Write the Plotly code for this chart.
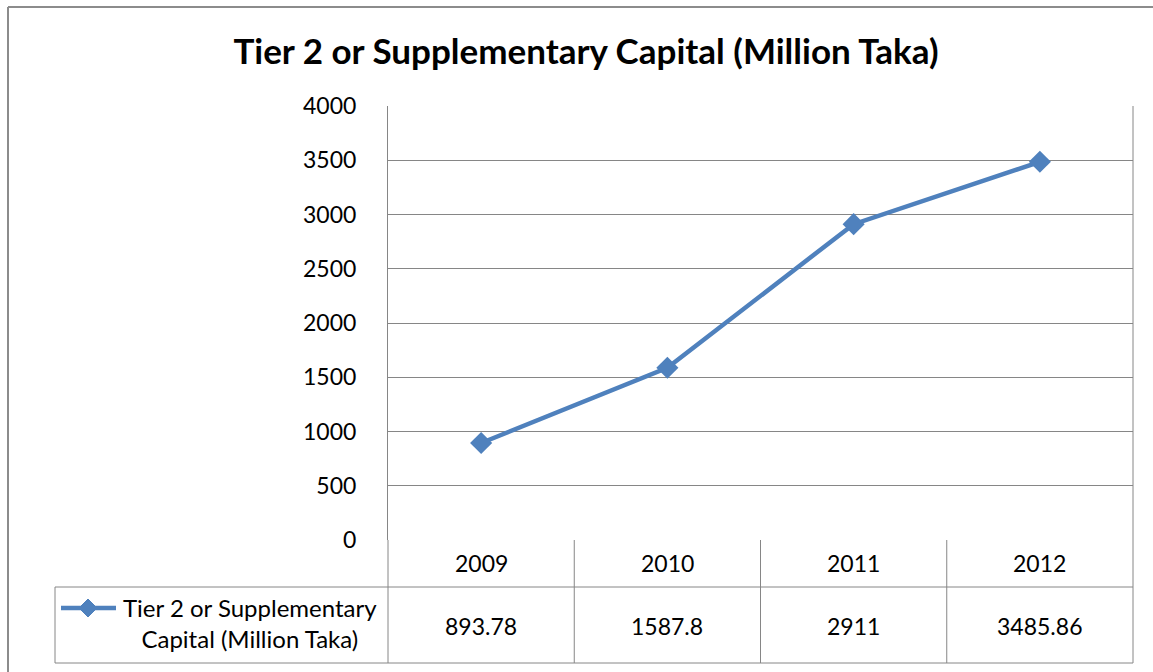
import plotly.graph_objects as go

years = ["2009", "2010", "2011", "2012"]
values = [893.78, 1587.8, 2911, 3485.86]
value_labels = ["893.78", "1587.8", "2911", "3485.86"]
series_name = "Tier 2 or Supplementary Capital (Million Taka)"
title = "Tier 2 or Supplementary Capital (Million Taka)"

W, H = 1153, 672
L, R, T, B = 388, 1133, 106, 540
pw, ph = R - L, B - T

def px(x):
    return (x - L) / pw

def py(y):
    return (B - y) / ph

FONT = "Lato, Carlito, Calibri, sans-serif"
BLUE = "#4F81BD"
GRID = "#868686"

xs = list(range(1, len(years) + 1))

fig = go.Figure()
fig.add_trace(go.Scatter(
    x=xs, y=values, mode="lines+markers",
    line=dict(color=BLUE, width=4.5),
    marker=dict(symbol="diamond", size=17, color=BLUE),
    name=series_name, showlegend=False, cliponaxis=False,
))

shapes = []
def line(x0, y0, x1, y1, color=GRID, width=1):
    shapes.append(dict(type="line", xref="paper", yref="paper",
                       x0=px(x0), y0=py(y0), x1=px(x1), y1=py(y1),
                       line=dict(color=color, width=width)))

# outer chart border
line(8, 7, 1153, 7, "#8c8c8c", 2)
line(8, 7, 8, 672, "#8c8c8c", 2)

# data table
col_w = pw / len(years)
for i in range(len(years) + 1):
    x = L + i * col_w
    line(x, B, x, 663)
line(55, 587, R, 587)
line(55, 663, R, 663)
line(55, 587, 55, 663)

annotations = []
for i, (yr, vl) in enumerate(zip(years, value_labels)):
    cx = L + (i + 0.5) * col_w
    annotations.append(dict(x=px(cx), y=py(563), xref="paper", yref="paper",
                            text=yr, showarrow=False, xanchor="center", yanchor="middle",
                            font=dict(family=FONT, size=23, color="#000")))
    annotations.append(dict(x=px(cx), y=py(626), xref="paper", yref="paper",
                            text=vl, showarrow=False, xanchor="center", yanchor="middle",
                            font=dict(family=FONT, size=23, color="#000")))

words = series_name.split(" ")
legend_text = " ".join(words[:4]) + "<br>" + " ".join(words[4:])
annotations.append(dict(x=px(250), y=py(623), xref="paper", yref="paper",
                        text=legend_text, showarrow=False, xanchor="center", yanchor="middle",
                        align="center",
                        font=dict(family=FONT, size=24, color="#000")))
# legend key
line(61, 608, 116, 608, BLUE, 4.5)
shapes.append(dict(type="path", xref="paper", yref="paper",
                   path="M {} {} L {} {} L {} {} L {} {} Z".format(
                       px(88), py(599), px(97), py(608), px(88), py(617), px(79), py(608)),
                   fillcolor=BLUE, line=dict(color=BLUE, width=1)))

fig.update_layout(
    width=W, height=H,
    margin=dict(l=L, r=W - R, t=T, b=H - B, pad=0),
    paper_bgcolor="white", plot_bgcolor="white",
    title=dict(text="<b>" + title + "</b>", x=(232 + 940) / 2 / W, xanchor="center",
               y=1 - 52 / H, yanchor="middle",
               font=dict(family=FONT, size=35, color="#000")),
    xaxis=dict(range=[0.5, len(years) + 0.5], showticklabels=False, showgrid=False,
               zeroline=False, showline=False, fixedrange=True),
    yaxis=dict(range=[0, 4000], dtick=500, showgrid=True, gridcolor=GRID, gridwidth=1,
               zeroline=False, showline=True, linecolor=GRID, linewidth=1,
               ticks="", ticklabelstandoff=26,
               tickfont=dict(family=FONT, size=23, color="#000")),
    shapes=shapes,
    annotations=annotations,
    showlegend=False,
)
fig.add_shape(type="line", xref="paper", yref="paper", x0=1, y0=0, x1=1, y1=1,
              line=dict(color=GRID, width=1), layer="below")

fig.write_html("out.html", config={"displayModeBar": False},
               post_script="document.body.style.margin='0px';document.body.style.padding='0px';")
